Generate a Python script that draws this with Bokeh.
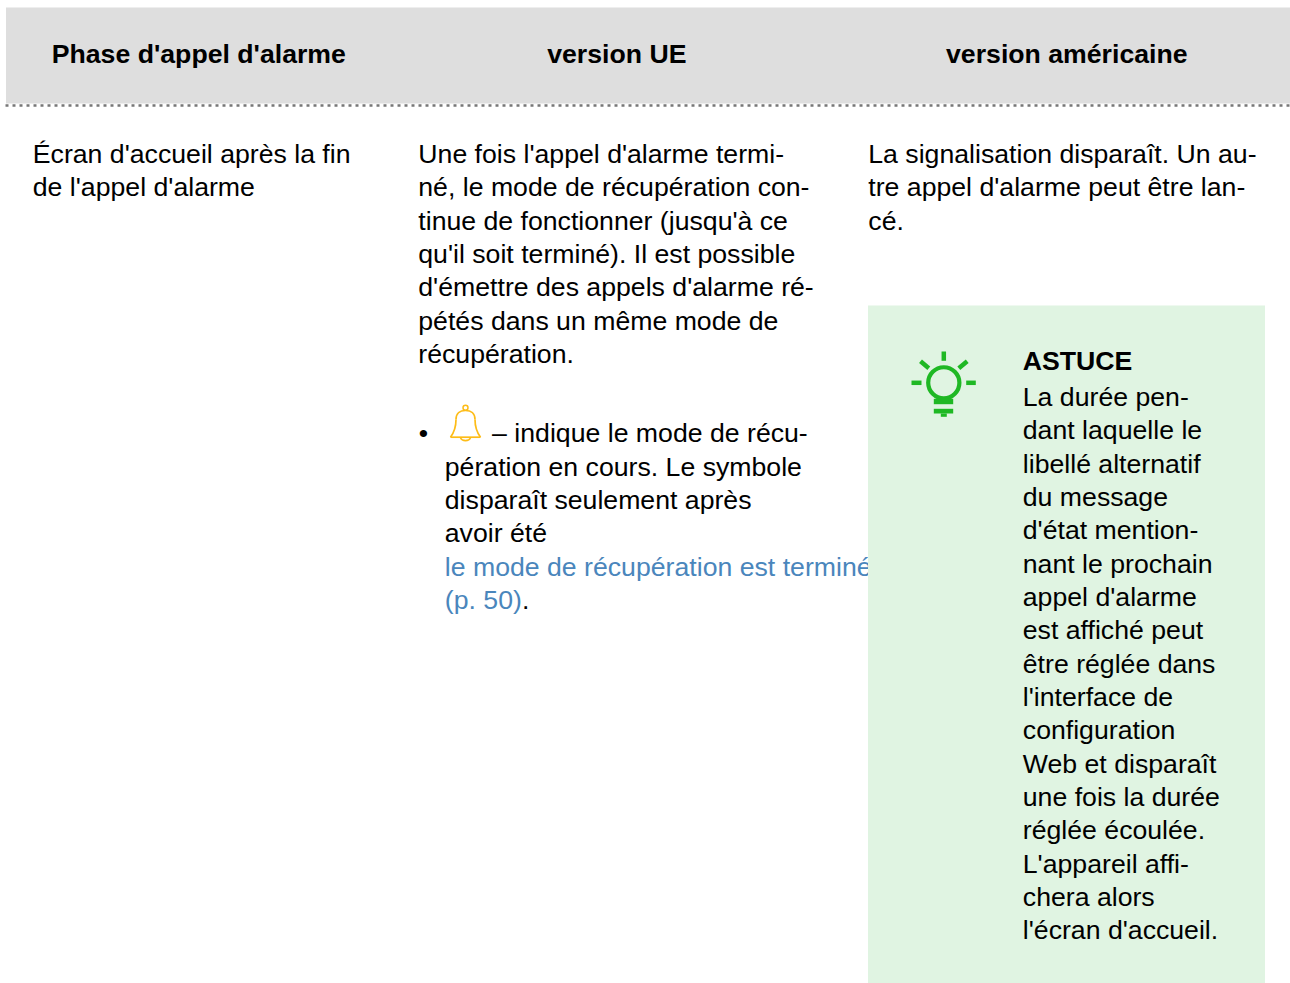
from bokeh.plotting import figure
from bokeh.models import Range1d
from bokeh.core.properties import value
from bokeh.embed import file_html
from bokeh.resources import INLINE

FONT = "Liberation Sans"
INK = "#000000"
LINK = "#4a86bc"
HEAD_BG = "#dedede"
TIP_BG = "#e0f4e2"
AMBER = "#fdbc17"
GREEN = "#1fb824"

headers = ["Phase d'appel d'alarme", "version UE", "version américaine"]
col1 = ["Écran d'accueil après la fin", "de l'appel d'alarme"]
col2 = ["Une fois l'appel d'alarme termi-", "né, le mode de récupération con-",
        "tinue de fonctionner (jusqu'à ce", "qu'il soit terminé). Il est possible",
        "d'émettre des appels d'alarme ré-", "pétés dans un même mode de", "récupération."]
bullet_first = "– indique le mode de récu-"
bullet = ["pération en cours. Le symbole", "disparaît seulement après", "avoir été"]
link = "le mode de récupération est terminé"
link2 = "(p. 50)"
col3 = ["La signalisation disparaît. Un au-", "tre appel d'alarme peut être lan-", "cé."]
tip_title = "ASTUCE"
tip = ["La durée pen-", "dant laquelle le", "libellé alternatif", "du message",
       "d'état mention-", "nant le prochain", "appel d'alarme", "est affiché peut",
       "être réglée dans", "l'interface de", "configuration", "Web et disparaît",
       "une fois la durée", "réglée écoulée.", "L'appareil affi-", "chera alors",
       "l'écran d'accueil."]

LH = 33.33
FS = "26.67px"

p = figure(width=1290, height=983, x_range=Range1d(0, 1290), y_range=Range1d(983, 0),
           output_backend="svg", toolbar_location=None, min_border=0, margin=(0, 0, 0, 0))
p.axis.visible = False
p.grid.visible = False
p.outline_line_color = None
p.background_fill_color = "#ffffff"
p.border_fill_color = "#ffffff"


def write(lines, x, y, color=INK, style="normal", align="left", size=FS):
    p.text(x=[x] * len(lines), y=[y + i * LH for i in range(len(lines))], text=lines,
           text_font=value(FONT), text_font_size=value(size), text_font_style=style,
           text_color=color, text_align=align, text_baseline="alphabetic")


p.quad(left=[5.5], right=[1290], top=[7], bottom=[103], fill_color=HEAD_BG, line_color=None)
p.line([5, 1290], [105, 105], line_color="#777777", line_width=2.5, line_dash="3 4")

for h, cx in zip(headers, [198.3, 616.3, 1066.3]):
    write([h], cx, 53, style="bold", align="center")

write(col1, 32.3, 153)
write(col2, 417.8, 153.4)
write(["•"], 418.3, 432)
write([bullet_first], 491.6, 432)
write(bullet, 444.3, 466)
write([link, link2], 444.3, 566, color=LINK)
write(["."], 521.6, 599)

p.quad(left=[867.5], right=[1264.5], top=[305], bottom=[983], fill_color=TIP_BG, line_color=None)
write(col3, 867.8, 153.4)
write([tip_title], 1022.3, 360, style="bold")
write(tip, 1022.3, 396.4)

# bell icon
p.bezier(x0=[450, 455.5, 465, 474.5], y0=[436.7, 419, 410, 419],
         x1=[455.5, 465, 474.5, 480], y1=[419, 410, 419, 436.7],
         cx0=[455, 455.5, 470.5, 474.5], cy0=[430, 413, 410, 425],
         cx1=[455.5, 459.5, 474.5, 475], cy1=[425, 410, 413, 430],
         line_color=AMBER, line_width=1.7)
p.line([450, 480], [436.7, 436.7], line_color=AMBER, line_width=1.7)
p.bezier(x0=[460], y0=[437.5], x1=[470], y1=[437.5], cx0=[461.5], cy0=[441], cx1=[468.5], cy1=[441],
         line_color=AMBER, line_width=1.6)
p.circle(x=[465], y=[407.3], radius=2.5, fill_color=None, line_color=AMBER, line_width=1.5)

# bulb icon
p.circle(x=[943.3], y=[382.3], radius=15.6, fill_color=None, line_color=GREEN, line_width=4.2)
p.segment(x0=[943.3, 911, 965.7, 920, 966.7], y0=[351, 382.3, 382.3, 360.7, 360.7],
          x1=[943.3, 921, 975.3, 928.3, 958.3], y1=[360.3, 382.3, 382.3, 367.7, 367.7],
          line_color=GREEN, line_width=4.5)
p.quad(left=[933.3, 933.3, 940.3], right=[952.7, 952.7, 946.3], top=[398.3, 408.3, 413],
       bottom=[403.7, 413, 416.3], fill_color=GREEN, line_color=None)

open("out.html", "w").write(file_html(p, INLINE))
